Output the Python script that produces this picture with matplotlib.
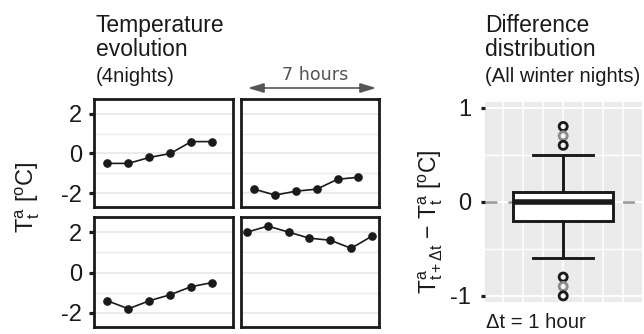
import matplotlib
matplotlib.use("Agg")
import matplotlib.pyplot as plt
from matplotlib.patches import FancyArrowPatch

plt.rcParams['font.family'] = ['Liberation Sans', 'DejaVu Sans']
plt.rcParams['mathtext.fontset'] = 'custom'
plt.rcParams['mathtext.rm'] = 'Liberation Sans'
plt.rcParams['mathtext.it'] = 'Liberation Sans'
plt.rcParams['mathtext.default'] = 'regular'
plt.rcParams['lines.scale_dashes'] = False

# ---- data ----
hours_a = [0.35, 1.35, 2.35, 3.35, 4.35, 5.35]
hours_b = [0, 1, 2, 3, 4, 5, 6]
night1 = [-0.5, -0.5, -0.2, 0.0, 0.6, 0.6]
night2 = [-1.8, -2.1, -1.9, -1.8, -1.3, -1.2]
night3 = [-1.4, -1.8, -1.4, -1.1, -0.7, -0.5]
night4 = [2.0, 2.3, 2.0, 1.7, 1.6, 1.2, 1.8]
left_ticks = [-2, 0, 2]
left_tick_labels = ['-2', '0', '2']

box_q1, box_med, box_q3 = -0.2, 0.0, 0.1
box_whislo, box_whishi = -0.6, 0.5
flier_values = [0.8, 0.7, 0.6, -0.8, -0.9, -1.0]
flier_colors = ['#1a1a1a', '#8c8c8c', '#1a1a1a', '#1a1a1a', '#8c8c8c', '#1a1a1a']
right_ticks = [-1, 0, 1]
right_tick_labels = ['-1', '0', '1']

W, H = 644, 334
fig = plt.figure(figsize=(W / 100, H / 100), dpi=100)

def rect(x0, y0, x1, y1):
    return [x0 / W, 1 - y1 / H, (x1 - x0) / W, (y1 - y0) / H]

panels = [
    (rect(94, 99, 233, 207), hours_a, night1, True),
    (rect(241, 99, 379, 207), hours_a, night2, False),
    (rect(94, 217, 233, 327), hours_a, night3, True),
    (rect(241, 217, 379, 327), hours_b, night4, False),
]
for pos, xs, ys, show_y in panels:
    ax = fig.add_axes(pos)
    ax.set_xlim(-0.29, 6.34)
    ax.set_ylim(-2.7, 2.75)
    for g in [-2, 0, 2]:
        ax.axhline(g, color='#ebebeb', lw=1.4, zorder=0)
    for g in [-1, 1]:
        ax.axhline(g, color='#ebebeb', lw=1.0, zorder=0)
    ax.plot(xs, ys, color='#1a1a1a', lw=1.2, marker='o', ms=5.2, zorder=3)
    ax.set_xticks([])
    for sp in ax.spines.values():
        sp.set_linewidth(2.0)
        sp.set_color('#1a1a1a')
    if show_y:
        ax.set_yticks(left_ticks)
        ax.set_yticklabels(left_tick_labels)
        ax.tick_params(axis='y', length=3.5, width=2.3, pad=5, labelsize=17,
                       color='#1a1a1a', labelcolor='#1a1a1a')
    else:
        ax.set_yticks([])

# ---- right panel ----
axr = fig.add_axes(rect(485, 102, 642, 302))
axr.set_facecolor('#ebebeb')
axr.set_xlim(-3.9, 3.93)
axr.set_ylim(-1.065, 1.06)
for sp in axr.spines.values():
    sp.set_visible(False)
for g in [-3, -2, -1, 0, 1, 2, 3]:
    axr.axvline(g, color='white', lw=1.1, zorder=0)
for g in [-1, 0, 1]:
    axr.axhline(g, color='white', lw=1.4, zorder=0)
for g in [-0.5, 0.5]:
    axr.axhline(g, color='white', lw=1.0, zorder=0)
axr.axhline(0, color='#999999', lw=1.8, dashes=(8.6, 7.9), zorder=1)
stats = [dict(med=box_med, q1=box_q1, q3=box_q3, whislo=box_whislo,
              whishi=box_whishi, fliers=[])]
axr.bxp(stats, positions=[0], widths=5.0, showfliers=False, patch_artist=True,
        boxprops=dict(facecolor='white', edgecolor='#1a1a1a', linewidth=2.1),
        medianprops=dict(color='#1a1a1a', linewidth=4.0),
        whiskerprops=dict(color='#1a1a1a', linewidth=2.1),
        capprops=dict(color='#1a1a1a', linewidth=2.1), capwidths=3.0,
        zorder=2)
axr.scatter([0] * len(flier_values), flier_values, s=34, facecolors='none',
            edgecolors=flier_colors, linewidths=2.0, zorder=4)
axr.set_xticks([])
axr.set_yticks(right_ticks)
axr.set_yticklabels(right_tick_labels)
axr.tick_params(axis='y', length=3.0, width=2.3, pad=7, labelsize=17,
                color='#1a1a1a', labelcolor='#1a1a1a')

# ---- texts ----
def ft(x, y, s, size, **kw):
    fig.text(x / W, 1 - y / H, s, fontsize=size, va='baseline', ha='left',
             color='#1a1a1a', **kw)

ft(96, 31.7, 'Temperature', 16.5)
ft(96, 56.5, 'evolution', 16.5)
ft(96, 82.5, '(4nights)', 14.6)
ft(485, 31.7, 'Difference', 16.5)
ft(485, 56.5, 'distribution', 16.5)
ft(485, 82, '(All winter nights)', 14.6)
ft(486, 328.5, 'Δt = 1 hour', 14.6)

fig.text(315 / W, 1 - 80 / H, '7 hours', fontsize=12.6, family='DejaVu Sans',
         color='#555555', ha='center', va='baseline')
arrow = FancyArrowPatch((245 / W, 1 - 88 / H), (379 / W, 1 - 88 / H),
                        transform=fig.transFigure,
                        arrowstyle='<|-|>,head_length=6,head_width=1.8',
                        color='#555555', lw=1.2, mutation_scale=1.6)
fig.add_artist(arrow)

fig.text(28 / W, 1 - 197 / H, r'$T^{a}_{t}$ [$^{o}$C]', fontsize=17,
         rotation=90, ha='center', va='center', color='#1a1a1a')
fig.text(431 / W, 1 - 222 / H, r'$T^{a}_{t+\Delta t}$ $-$ $T^{a}_{t}$ [$^{o}$C]',
         fontsize=16.5, rotation=90, ha='center', va='center', color='#1a1a1a')

fig.savefig('out.png', dpi=100)
